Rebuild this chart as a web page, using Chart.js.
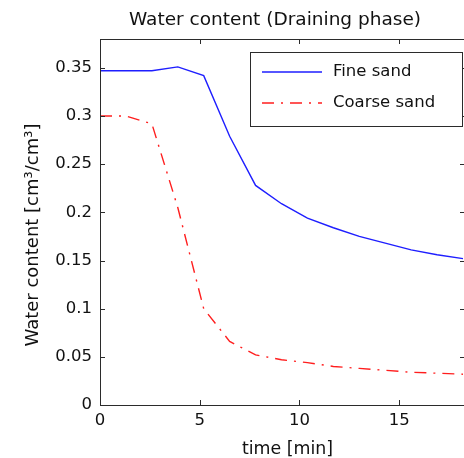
<!DOCTYPE html>
<html>
<head>
<meta charset="utf-8">
<script src="https://cdn.jsdelivr.net/npm/chart.js@4.4.1/dist/chart.umd.min.js"></script>
<style>
  html, body { margin: 0; padding: 0; background: #fff; overflow: hidden; }
  #wrap { width: 468px; height: 458px; }
</style>
</head>
<body>
<div id="wrap"><canvas id="myChart" width="468" height="458"></canvas></div>
<script>
// time [min] of each sample
let times = [0, 1.3, 2.6, 3.9, 5.2, 6.5, 7.8, 9.1, 10.4, 11.7, 13.0, 14.3, 15.6, 16.9, 18.2];
let fineSand = [0.347, 0.347, 0.347, 0.351, 0.342, 0.279, 0.228, 0.209, 0.194, 0.184, 0.175, 0.168, 0.161, 0.156, 0.152];
let coarseSand = [0.300, 0.300, 0.292, 0.205, 0.100, 0.066, 0.052, 0.047, 0.044, 0.040, 0.038, 0.036, 0.034, 0.033, 0.032];
let xTicks = [0, 5, 10, 15];
let yTicks = [0, 0.05, 0.1, 0.15, 0.2, 0.25, 0.3, 0.35];

const font = 'DejaVu Sans';

function toPoints(values) {
    return values.map((v, i) => ({ x: times[i], y: v }));
}

// axes box with inward ticks, titles and boxed legend (matlab look)
const boxPlugin = {
    id: 'matlabBox',
    afterDatasetsDraw(chart) {
        const ctx = chart.ctx;
        const a = chart.chartArea;
        const x = chart.scales.x;
        const y = chart.scales.y;
        ctx.save();
        ctx.strokeStyle = '#2b2b2b';
        ctx.lineWidth = 1;
        ctx.beginPath();
        ctx.rect(Math.round(a.left) + 0.5, Math.round(a.top) + 0.5, Math.round(a.right - a.left), Math.round(a.bottom - a.top));
        x.ticks.forEach(t => {
            let px = Math.round(x.getPixelForValue(t.value)) + 0.5;
            ctx.moveTo(px, a.bottom); ctx.lineTo(px, a.bottom - 5);
            ctx.moveTo(px, a.top); ctx.lineTo(px, a.top + 5);
        });
        y.ticks.forEach(t => {
            let py = Math.round(y.getPixelForValue(t.value)) + 0.5;
            ctx.moveTo(a.left, py); ctx.lineTo(a.left + 5, py);
            ctx.moveTo(a.right, py); ctx.lineTo(a.right - 5, py);
        });
        ctx.stroke();

        // titles
        ctx.fillStyle = '#111';
        ctx.font = '18.5px "' + font + '"';
        ctx.textAlign = 'center';
        ctx.textBaseline = 'middle';
        ctx.fillText('Water content (Draining phase)', 275, 20);

        ctx.font = '17.4px "' + font + '"';
        ctx.textBaseline = 'alphabetic';
        ctx.fillText('time [min]', 287.5, 454);

        ctx.save();
        ctx.translate(37.5, 235);
        ctx.rotate(-Math.PI / 2);
        ctx.font = '18px "' + font + '"';
        ctx.fillText('Water content [cm³/cm³]', 0, 0);
        ctx.restore();

        // legend
        let lx = 250.5, ly = 52.5, lw = 212, lh = 74;
        ctx.fillStyle = '#fff';
        ctx.fillRect(lx, ly, lw, lh);
        ctx.strokeStyle = '#2b2b2b';
        ctx.lineWidth = 1;
        ctx.strokeRect(lx, ly, lw, lh);
        ctx.font = '16.5px "' + font + '"';
        ctx.textAlign = 'left';
        ctx.textBaseline = 'middle';
        chart.data.datasets.forEach((ds, i) => {
            let rowY = 72 + i * 31;
            ctx.beginPath();
            ctx.strokeStyle = ds.borderColor;
            ctx.lineWidth = ds.borderWidth;
            ctx.setLineDash(ds.borderDash || []);
            ctx.moveTo(262, rowY);
            ctx.lineTo(322, rowY);
            ctx.stroke();
            ctx.setLineDash([]);
            ctx.fillStyle = '#111';
            ctx.fillText(ds.label, 333, rowY);
        });
        ctx.restore();
    }
};

new Chart(document.getElementById('myChart').getContext('2d'), {
    type: 'line',
    data: {
        datasets: [{
            label: 'Fine sand',
            data: toPoints(fineSand),
            borderColor: 'rgb(30, 30, 255)',
            borderWidth: 1.4,
            pointRadius: 0,
            tension: 0
        }, {
            label: 'Coarse sand',
            data: toPoints(coarseSand),
            borderColor: 'rgb(255, 30, 30)',
            borderWidth: 1.4,
            borderDash: [12, 7, 2, 7],
            pointRadius: 0,
            tension: 0
        }]
    },
    options: {
        responsive: false,
        animation: false,
        layout: { padding: { top: 39, right: 3, left: 0, bottom: 0 } },
        plugins: {
            legend: { display: false },
            title: { display: false },
            tooltip: { enabled: false }
        },
        scales: {
            x: {
                type: 'linear',
                min: 0,
                max: 18.3,
                afterBuildTicks: s => { s.ticks = xTicks.map(v => ({ value: v })); },
                afterFit: s => { s.height = 53; },
                grid: { display: false, drawTicks: false },
                border: { display: false },
                ticks: { padding: 6, color: '#111', font: { family: font, size: 16.5 } }
            },
            y: {
                min: 0,
                max: 0.38,
                afterBuildTicks: s => { s.ticks = yTicks.map(v => ({ value: v })); },
                afterFit: s => { s.width = 100; },
                grid: { display: false, drawTicks: false },
                border: { display: false },
                ticks: {
                    padding: 8,
                    color: '#111',
                    font: { family: font, size: 16.5 },
                    callback: v => String(Number(v.toFixed(2)))
                }
            }
        }
    },
    plugins: [boxPlugin]
});
</script>
</body>
</html>
